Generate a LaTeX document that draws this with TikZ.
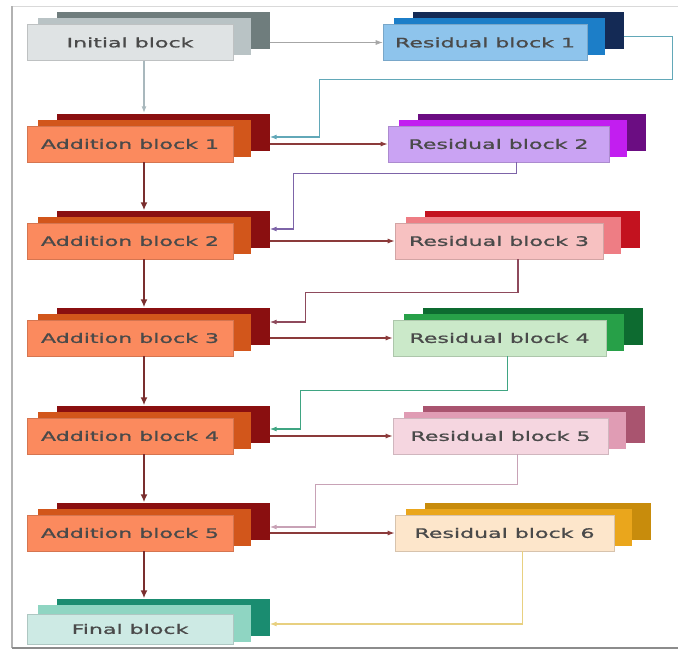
\documentclass[tikz,border=0pt]{standalone}
\usepackage{fontspec}
\newfontfamily\blockfont[FakeStretch=1.7,FakeBold=1.2]{DejaVu Sans}
\usetikzlibrary{arrows.meta}

\definecolor{txtgrey}{HTML}{4A4A4A}
\definecolor{initF}{HTML}{DFE3E4}\definecolor{initM}{HTML}{B9C3C5}\definecolor{initB}{HTML}{6F7D7D}
\definecolor{addF}{HTML}{FB8A5E}\definecolor{addM}{HTML}{D2561B}\definecolor{addB}{HTML}{8A0F10}
\definecolor{resaF}{HTML}{8EC4EC}\definecolor{resaM}{HTML}{1C7EC8}\definecolor{resaB}{HTML}{142A55}
\definecolor{resbF}{HTML}{CAA3F3}\definecolor{resbM}{HTML}{C21EF0}\definecolor{resbB}{HTML}{6B0D82}
\definecolor{rescF}{HTML}{F7C1C1}\definecolor{rescM}{HTML}{EE7D84}\definecolor{rescB}{HTML}{C3121F}
\definecolor{resdF}{HTML}{CBE9C9}\definecolor{resdM}{HTML}{27A048}\definecolor{resdB}{HTML}{0D6B30}
\definecolor{reseF}{HTML}{F5D6E0}\definecolor{reseM}{HTML}{E09CB4}\definecolor{reseB}{HTML}{A9546F}
\definecolor{resfF}{HTML}{FDE6CB}\definecolor{resfM}{HTML}{EAA61C}\definecolor{resfB}{HTML}{C88C0C}
\definecolor{finF}{HTML}{CDEAE4}\definecolor{finM}{HTML}{8FD5C2}\definecolor{finB}{HTML}{1A8C70}
\definecolor{mainline}{HTML}{7A2E2E}
\definecolor{sideline}{HTML}{8B3A3A}

\tikzset{
  sheet/.style={rectangle,inner sep=0pt,minimum height=37},
  blockface/.style={rectangle,inner sep=0pt,minimum height=36,line width=0.6pt,
    font=\blockfont\fontsize{13}{13}\selectfont,text=txtgrey},
  link/.style={line width=1.2pt,-{Latex[length=7pt,width=5pt]}},
  mainlink/.style={line width=2.5pt,draw=mainline,-{Latex[length=8pt,width=7pt]}},
}

\newcommand{\layered}[8][]{%
  \coordinate (#2-c) at (#3);
  \node[sheet,minimum width=#4+7,fill=#8] (#2-b) at ([shift={(33,-12)}]#2-c) {};
  \node[sheet,minimum width=#4+7,fill=#7] (#2-m) at ([shift={(14,-6)}]#2-c) {};
  \node[blockface,minimum width=#4,fill=#6,draw=#6!85!black,#1] (#2) at (#2-c) {#5};
}

\begin{document}
\begin{tikzpicture}[x=1pt,y=-1pt]
 \useasboundingbox (0,0) rectangle (678,656);
 \draw[line width=0.8pt,black!15] (12,6) -- (678,6);
 \draw[line width=1.5pt,black!30] (12,6) -- (12,648);
 \draw[line width=2pt,black!45] (12,648) -- (678,648);

 \layered{init}{130,42.5}{206}{Initial block}{initF}{initM}{initB}
 \layered{res1}{485,42.5}{204}{Residual block 1}{resaF}{resaM}{resaB}
 \layered{add1}{130,144}{206}{Addition block 1}{addF}{addM}{addB}
 \layered{res2}{498.5,144}{221}{Residual block 2}{resbF}{resbM}{resbB}
 \layered{add2}{130,241}{206}{Addition block 2}{addF}{addM}{addB}
 \layered{res3}{499,241}{208}{Residual block 3}{rescF}{rescM}{rescB}
 \layered{add3}{130,338}{206}{Addition block 3}{addF}{addM}{addB}
 \layered{res4}{499.5,338}{213}{Residual block 4}{resdF}{resdM}{resdB}
 \layered{add4}{130,436}{206}{Addition block 4}{addF}{addM}{addB}
 \layered{res5}{500.5,436}{215}{Residual block 5}{reseF}{reseM}{reseB}
 \layered{add5}{130,533}{206}{Addition block 5}{addF}{addM}{addB}
 \layered{res6}{504.5,533}{219}{Residual block 6}{resfF}{resfM}{resfB}
 \layered[minimum height=30]{final}{130,629}{206}{Final block}{finF}{finM}{finB}

 \coordinate (in1) at ([yshift=-5pt]add1-b.east);
 \coordinate (in2) at (add2-b.east);
 \coordinate (in3) at ([yshift=4pt]add3-b.east);
 \coordinate (in4) at ([yshift=-5pt]add4-b.east);
 \coordinate (in5) at ([yshift=-6pt]add5-b.east);
 \coordinate (in6) at ([yshift=-7pt]final-b.east);

 \draw[link,line width=1.5pt,draw={rgb,255:red,169;green,184;blue,189}] (init-m |- init.south) -- (init-m |- add1-b.north);
 \draw[link,line width=0.8pt,draw=black!35] (init-b.east |- res1.west) -- (res1.west);
 \draw[link,draw={rgb,255:red,98;green,168;blue,184}] ([yshift=-6pt]res1-b.east) -- ++(49,0) -- ++(0,43) -| ([xshift=50pt]in1) -- (in1);

 \draw[mainlink] (add1-m |- add1.south) -- (add1-m |- add2-b.north);
 \draw[mainlink] (add2-m |- add2.south) -- (add2-m |- add3-b.north);
 \draw[mainlink] (add3-m |- add3.south) -- (add3-m |- add4-b.north);
 \draw[mainlink] (add4-m |- add4.south) -- (add4-m |- add5-b.north);
 \draw[mainlink] (add5-m |- add5.south) -- (add5-m |- final-b.north);

 \draw[link,draw=sideline] (add1-b.east |- res2.west) -- (res2.west);
 \draw[link,draw=sideline] (add2-b.east |- res3.west) -- (res3.west);
 \draw[link,draw=sideline] (add3-b.east |- res4.west) -- (res4.west);
 \draw[link,draw=sideline] (add4-b.east |- res5.west) -- (res5.west);
 \draw[link,draw=sideline] (add5-b.east |- res6.west) -- (res6.west);

 \draw[link,draw={rgb,255:red,125;green,100;blue,168}] ([xshift=18pt]res2.south) -- ++(0,11) -| ([xshift=24pt]in2) -- (in2);
 \draw[link,draw={rgb,255:red,142;green,74;blue,92}] ([xshift=19pt]res3.south) -- ++(0,33) -| ([xshift=36pt]in3) -- (in3);
 \draw[link,draw={rgb,255:red,63;green,165;blue,130}] ([xshift=8pt]res4.south) -- ++(0,34) -| ([xshift=31pt]in4) -- (in4);
 \draw[link,draw={rgb,255:red,200;green,162;blue,182}] ([xshift=17pt]res5.south) -- ++(0,30) -| ([xshift=46pt]in5) -- (in5);
 \draw[link,draw={rgb,255:red,232;green,208;blue,128}] ([xshift=18pt]res6.south) |- (in6);
\end{tikzpicture}
\end{document}
